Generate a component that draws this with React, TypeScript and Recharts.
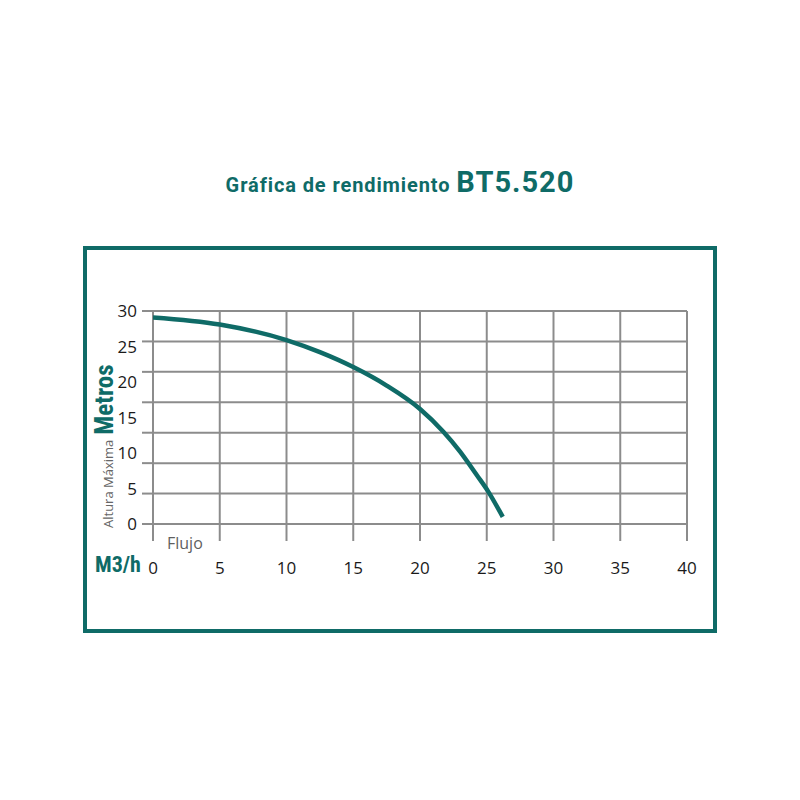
import React from 'react';
import { LineChart, Line, XAxis, YAxis, CartesianGrid, Label } from 'recharts';

// caudal (M3/h) y altura (m)
const flow = [0, 5, 10, 12.5, 15, 17.5, 20, 21.75, 23, 24.25, 25.1, 26.2];
const head = [29.1, 28.1, 25.9, 24.2, 22.1, 19.5, 16.2, 13.0, 10.2, 6.9, 4.6, 1.0];

const flowTicks = [0, 5, 10, 15, 20, 25, 30, 35, 40];
const headTicks = [0, 5, 10, 15, 20, 25, 30];
// the printed grid has 7 rows, the labels only 6 steps
const gridRows = [0, 1, 2, 3, 4, 5, 6, 7];

const data = flow.map((q, i) => ({ q, h: head[i] }));

const TEAL = '#0f6b67';
const GRID = '#8c8c8c';
const narrow = "'Liberation Sans Narrow', 'Roboto Condensed', Roboto, sans-serif";
const body = "'Open Sans', 'Noto Sans', sans-serif";

function HeadLabel({ viewBox }: any) {
  const { x, y, height } = viewBox;
  return (
    <text transform={`translate(${x + 5}, ${y + height + 4}) rotate(-90)`}>
      <tspan fill="#666" fontSize={13} fontFamily={body}>Altura Máxima</tspan>
      <tspan dx={5} fill={TEAL} fontSize={25} fontWeight="bold" fontFamily={narrow}>Metros</tspan>
    </text>
  );
}

function FlowLabel({ viewBox }: any) {
  const { x, y } = viewBox;
  return (
    <g>
      <text x={x + 14} y={y + 25} fill="#5f5f5f" fontSize={16} fontFamily={body}>Flujo</text>
      <text x={x - 58} y={y + 48} fill={TEAL} fontSize={22} fontWeight="bold" fontFamily={narrow}>M3/h</text>
    </g>
  );
}

const NoTick = () => <g />;

export default function App() {
  return (
    <div style={{ position: 'absolute', left: 0, top: 0, width: 800, height: 800, background: '#fff' }}>
      <div
        style={{
          position: 'absolute',
          left: 0,
          top: 162,
          width: 800,
          textAlign: 'center',
          color: TEAL,
          fontFamily: 'Roboto, sans-serif',
          fontWeight: 'bold',
          lineHeight: '40px',
        }}
      >
        <span style={{ fontSize: 20, letterSpacing: 0.9 }}>Gráfica de rendimiento </span>
        <span style={{ fontSize: 29, letterSpacing: 1 }}>BT5.520</span>
      </div>
      <div
        style={{
          position: 'absolute',
          left: 83,
          top: 246,
          width: 634,
          height: 387,
          boxSizing: 'border-box',
          border: `4.5px solid ${TEAL}`,
        }}
      />
      <div style={{ position: 'absolute', left: 0, top: 0 }}>
        <LineChart width={800} height={800} data={data} margin={{ top: 311, right: 113, bottom: 216, left: 108 }}>
          <CartesianGrid xAxisId="flow" yAxisId="a_rows" stroke={GRID} strokeWidth={2} />
          <XAxis
            xAxisId="flow"
            dataKey="q"
            type="number"
            domain={[0, 40]}
            allowDataOverflow
            ticks={flowTicks}
            interval={0}
            height={60}
            axisLine={false}
            tickSize={17}
            tickMargin={21}
            tickLine={{ stroke: GRID, strokeWidth: 2 }}
            tick={{ fontSize: 17, fill: '#1a1a1a', fontFamily: body }}
          >
            <Label content={<FlowLabel />} />
          </XAxis>
          <YAxis
            yAxisId="a_rows"
            type="number"
            domain={[0, 7]}
            allowDataOverflow
            ticks={gridRows}
            interval={0}
            width={11}
            tickSize={11}
            axisLine={false}
            tick={<NoTick />}
            tickLine={{ stroke: GRID, strokeWidth: 2 }}
          />
          <YAxis
            yAxisId="b_head"
            type="number"
            domain={[0, 30]}
            allowDataOverflow
            ticks={headTicks}
            interval={0}
            width={34}
            tickSize={3}
            tickMargin={2}
            axisLine={false}
            tickLine={false}
            tick={{ fontSize: 17, fill: '#1a1a1a', fontFamily: body }}
          >
            <Label content={<HeadLabel />} />
          </YAxis>
          <Line
            xAxisId="flow"
            yAxisId="b_head"
            type="monotone"
            dataKey="h"
            stroke={TEAL}
            strokeWidth={4.5}
            dot={false}
            isAnimationActive={false}
          />
        </LineChart>
      </div>
    </div>
  );
}
